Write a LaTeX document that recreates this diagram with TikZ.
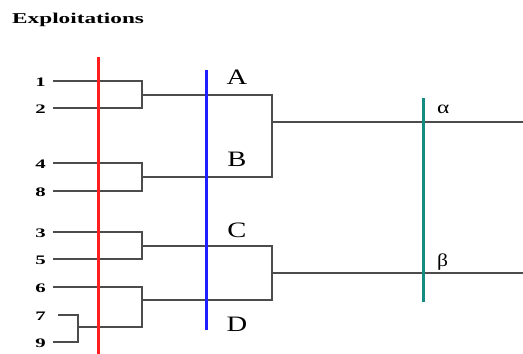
\documentclass[tikz,border=0pt]{standalone}
\usepackage{fontspec}
\setmainfont{Liberation Serif}
\definecolor{cutred}{RGB}{255,30,30}
\definecolor{cutblue}{RGB}{30,30,255}
\definecolor{cutteal}{RGB}{20,140,130}
\begin{document}
\begin{tikzpicture}[x=1pt,y=-1pt,
  link/.style={draw=black!70,line width=1.2pt},
  bar/.style={line width=3pt},
  leaf/.style={anchor=east,inner sep=0pt,font=\fontsize{13}{13}\selectfont\bfseries},
  big/.style={inner sep=0pt,font=\fontsize{22}{22}\selectfont},
  greek/.style={inner sep=0pt,font=\fontsize{18}{18}\selectfont}]
\useasboundingbox (0,0) rectangle (523,354);
\fill[white] (0,0) rectangle (523,354);
% title
\node[anchor=west,inner sep=0pt,font=\fontsize{15}{15}\selectfont\bfseries] (title) at (12,20) {\scalebox{1.55}[1]{Exploitations}};
% leaf labels
\node[leaf] (n1) at (46,82) {\scalebox{1.6}[1]{1}};
\node[leaf] (n2) at (46,109) {\scalebox{1.6}[1]{2}};
\node[leaf] (n4) at (46,164) {\scalebox{1.6}[1]{4}};
\node[leaf] (n8) at (46,192) {\scalebox{1.6}[1]{8}};
\node[leaf] (n3) at (46,233) {\scalebox{1.6}[1]{3}};
\node[leaf] (n5) at (46,260) {\scalebox{1.6}[1]{5}};
\node[leaf] (n6) at (46,288) {\scalebox{1.6}[1]{6}};
\node[leaf] (n7) at (46,316) {\scalebox{1.6}[1]{7}};
\node[leaf] (n9) at (46,343) {\scalebox{1.6}[1]{9}};
% leaf line starts
\coordinate (s1) at (53,81);
\coordinate (s2) at (53,108);
\coordinate (s4) at (53,163);
\coordinate (s8) at (53,191);
\coordinate (s3) at (53,232);
\coordinate (s5) at (53,259);
\coordinate (s6) at (53,287);
\coordinate (s7) at (58,315);
\coordinate (s9) at (53,342);
% junctions
\coordinate (j79) at (78,327);
\coordinate (j12) at (142,95);
\coordinate (j48) at (142,177);
\coordinate (j35) at (142,246);
\coordinate (j679) at (142,300);
\coordinate (jAB) at (272,122);
\coordinate (jCD) at (272,273);
\coordinate (eA) at (523,122);
\coordinate (eB) at (523,273);
% dendrogram
\draw[link] (s7) -| (j79);
\draw[link] (s9) -| (j79);
\draw[link] (s1) -| (j12);
\draw[link] (s2) -| (j12);
\draw[link] (s4) -| (j48);
\draw[link] (s8) -| (j48);
\draw[link] (s3) -| (j35);
\draw[link] (s5) -| (j35);
\draw[link] (s6) -| (j679);
\draw[link] (j79) -| (j679);
\draw[link] (j12) -| (jAB);
\draw[link] (j48) -| (jAB);
\draw[link] (j35) -| (jCD);
\draw[link] (j679) -| (jCD);
\draw[link] (jAB) -- (eA);
\draw[link] (jCD) -- (eB);
% cut lines
\coordinate (r1) at (98,57);
\coordinate (r2) at (98,354);
\coordinate (b1) at (206,70);
\coordinate (b2) at (206,330);
\coordinate (t1) at (423,98);
\coordinate (t2) at (423,302);
\draw[bar,cutred] (r1) -- (r2);
\draw[bar,cutblue] (b1) -- (b2);
\draw[bar,cutteal] (t1) -- (t2);
% cluster labels
\node[big] (A) at (237,77) {\scalebox{1.3}[1]{A}};
\node[big] (B) at (237,159) {\scalebox{1.3}[1]{B}};
\node[big] (C) at (237,230) {\scalebox{1.3}[1]{C}};
\node[big] (D) at (237,324) {\scalebox{1.3}[1]{D}};
\node[greek,anchor=base west] (al) at (437,113) {\scalebox{1.3}[1]{α}};
\node[greek,anchor=base west] (be) at (437,266) {\scalebox{1.2}[1]{β}};
\end{tikzpicture}
\end{document}
